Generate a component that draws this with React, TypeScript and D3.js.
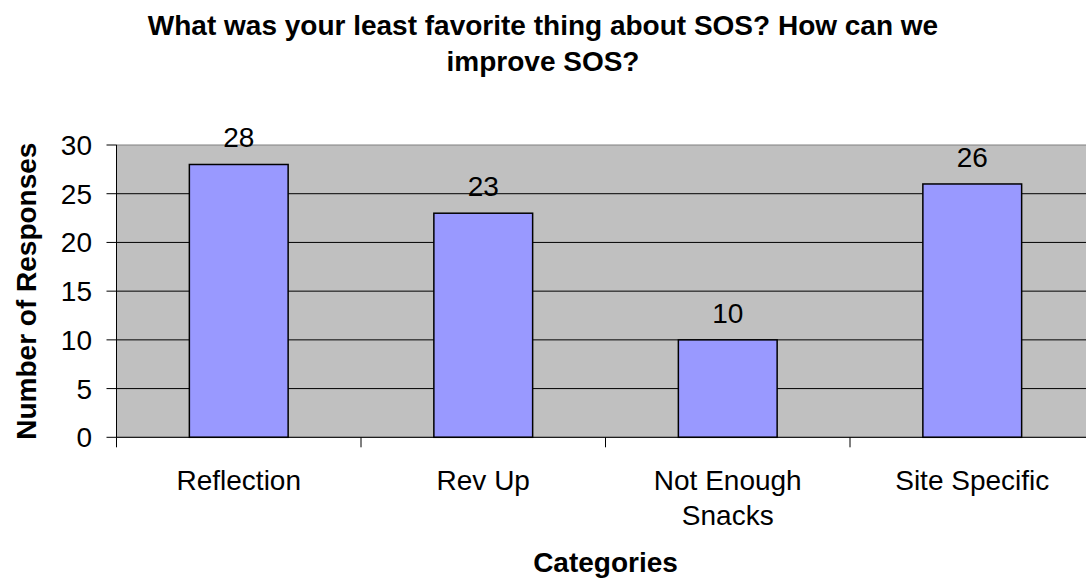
import React from "react";
import * as d3 from "d3";

const categories = ["Reflection", "Rev Up", "Not Enough Snacks", "Site Specific"];
const categoryLines = [["Reflection"], ["Rev Up"], ["Not Enough", "Snacks"], ["Site Specific"]];
const responses = [28, 23, 10, 26];
const yTicks = [0, 5, 10, 15, 20, 25, 30];
const titleLines = ["What was your least favorite thing about SOS? How can we", "improve SOS?"];

const W = 1086;
const H = 579;
const FONT = "'Liberation Sans', Arial, Helvetica, sans-serif";

export default function App() {
  const left = 116.5;
  const right = 1094.5;
  const top = 145;
  const bottom = 437.3;

  const x = d3.scaleBand<string>().domain(categories).range([left, right]).padding(0);
  const y = d3.scaleLinear().domain([0, 30]).range([bottom, top]);
  const barW = x.bandwidth() * 0.404;
  const plotCenter = (left + right) / 2;

  const boundaries = categories.map((c) => x(c) as number).concat([right]);

  return (
    <svg
      width={W}
      height={H}
      style={{ position: "absolute", left: 0, top: 0, background: "#fff" }}
      fontFamily={FONT}
    >
      {/* Title */}
      <text textAnchor="middle" fontWeight="bold" fontSize={28} fill="#000">
        {titleLines.map((t, i) => (
          <tspan key={i} x={W / 2} y={35 + i * 36}>
            {t}
          </tspan>
        ))}
      </text>

      {/* Plot background */}
      <rect x={left} y={top} width={right - left} height={bottom - top} fill="#C0C0C0" stroke="#808080" strokeWidth={1} />

      {/* Gridlines */}
      {yTicks.filter((t) => t > 0 && t < 30).map((t) => (
        <line key={t} x1={left} x2={right} y1={y(t)} y2={y(t)} stroke="#000" strokeWidth={1} />
      ))}

      {/* Bars */}
      {categories.map((c, i) => {
        const cx = (x(c) as number) + x.bandwidth() / 2;
        return (
          <rect
            key={c}
            x={cx - barW / 2}
            y={y(responses[i])}
            width={barW}
            height={y(0) - y(responses[i])}
            fill="#9999FF"
            stroke="#000"
            strokeWidth={1.5}
          />
        );
      })}

      {/* Value labels */}
      {categories.map((c, i) => {
        const cx = (x(c) as number) + x.bandwidth() / 2;
        return (
          <text key={c} x={cx} y={y(responses[i]) - 17} textAnchor="middle" fontSize={28} fill="#000">
            {responses[i]}
          </text>
        );
      })}

      {/* Y axis */}
      <line x1={left} x2={left} y1={top} y2={bottom} stroke="#000" strokeWidth={1} />
      {yTicks.map((t) => (
        <g key={t}>
          <line x1={left - 10} x2={left} y1={y(t)} y2={y(t)} stroke="#000" strokeWidth={1} />
          <text x={92} y={y(t) + 10} textAnchor="end" fontSize={28} fill="#000">
            {t}
          </text>
        </g>
      ))}

      {/* X axis */}
      <line x1={left} x2={right} y1={bottom} y2={bottom} stroke="#000" strokeWidth={1} />
      {boundaries.map((b, i) => (
        <line key={i} x1={b} x2={b} y1={bottom} y2={bottom + 10} stroke="#000" strokeWidth={1} />
      ))}
      {categories.map((c, i) => {
        const cx = (x(c) as number) + x.bandwidth() / 2;
        return (
          <text key={c} textAnchor="middle" fontSize={28} fill="#000">
            {categoryLines[i].map((l, j) => (
              <tspan key={j} x={cx} y={490 + j * 35}>
                {l}
              </tspan>
            ))}
          </text>
        );
      })}

      {/* Axis titles */}
      <text x={plotCenter} y={572} textAnchor="middle" fontWeight="bold" fontSize={28} fill="#000">
        Categories
      </text>
      <text
        transform={`translate(36, ${(top + bottom) / 2}) rotate(-90)`}
        textAnchor="middle"
        fontWeight="bold"
        fontSize={28}
        fill="#000"
      >
        Number of Responses
      </text>
    </svg>
  );
}
